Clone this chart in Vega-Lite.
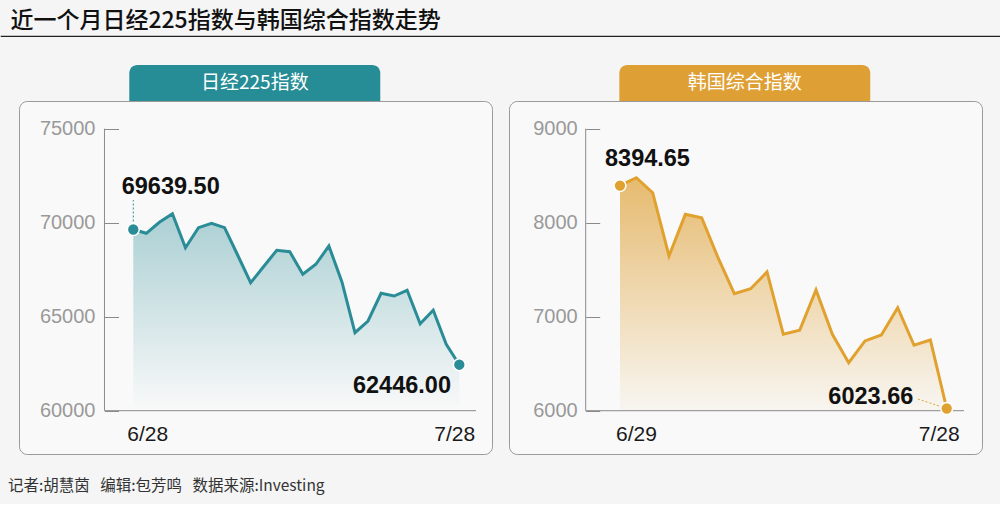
{
  "$schema": "https://vega.github.io/schema/vega-lite/v6.json",
  "background": "#f5f5f5",
  "padding": {"left": 0, "top": 9, "right": 0, "bottom": 10},
  "bounds": "flush",
  "spacing": 64,
  "title": {
    "text": "近一个月日经225指数与韩国综合指数走势",
    "anchor": "start",
    "dx": 10,
    "offset": 2.5,
    "font": "Noto Sans CJK SC",
    "fontSize": 23,
    "fontWeight": 500,
    "color": "#111111"
  },
  "datasets": {
    "nikkei": [
      {"i": 0, "v": 69639.5},
      {"i": 1, "v": 69436},
      {"i": 2, "v": 70020},
      {"i": 3, "v": 70479},
      {"i": 4, "v": 68670},
      {"i": 5, "v": 69734},
      {"i": 6, "v": 69968},
      {"i": 7, "v": 69734},
      {"i": 8, "v": 68282},
      {"i": 9, "v": 66809},
      {"i": 10, "v": 67670},
      {"i": 11, "v": 68532},
      {"i": 12, "v": 68457},
      {"i": 13, "v": 67255},
      {"i": 14, "v": 67787},
      {"i": 15, "v": 68761},
      {"i": 16, "v": 66846},
      {"i": 17, "v": 64149},
      {"i": 18, "v": 64771},
      {"i": 19, "v": 66245},
      {"i": 20, "v": 66101},
      {"i": 21, "v": 66404},
      {"i": 22, "v": 64628},
      {"i": 23, "v": 65340},
      {"i": 24, "v": 63532},
      {"i": 25, "v": 62446}
    ],
    "kospi": [
      {"i": 0, "v": 8394.65},
      {"i": 1, "v": 8479},
      {"i": 2, "v": 8319},
      {"i": 3, "v": 7646},
      {"i": 4, "v": 8089},
      {"i": 5, "v": 8053},
      {"i": 6, "v": 7628},
      {"i": 7, "v": 7245},
      {"i": 8, "v": 7298},
      {"i": 9, "v": 7476},
      {"i": 10, "v": 6813},
      {"i": 11, "v": 6855},
      {"i": 12, "v": 7284},
      {"i": 13, "v": 6813},
      {"i": 14, "v": 6511},
      {"i": 15, "v": 6742},
      {"i": 16, "v": 6805},
      {"i": 17, "v": 7096},
      {"i": 18, "v": 6696},
      {"i": 19, "v": 6752},
      {"i": 20, "v": 6023.66}
    ]
  },
  "vconcat": [
    {
      "width": 1000,
      "height": 0.01,
      "data": {"values": []},
      "mark": "point",
      "view": {"stroke": "#222222", "strokeWidth": 1.2}
    },
    {
      "bounds": "flush",
      "spacing": 17,
      "title": {
        "text": "记者:胡慧茵\u00a0\u00a0\u00a0编辑:包芳鸣\u00a0\u00a0\u00a0数据来源:Investing",
        "orient": "bottom",
        "anchor": "start",
        "dx": 7,
        "offset": 24,
        "font": "Noto Sans CJK SC",
        "fontSize": 15.5,
        "fontWeight": "normal",
        "color": "#333333"
      },
      "hconcat": [
        {
          "width": 0.01,
          "height": 353,
          "data": {"values": []},
          "mark": "point",
          "view": {"stroke": null}
        },
        {
          "width": 473,
          "height": 353,
          "view": {"fill": "#f9f9f9", "stroke": "#9a9a9a", "cornerRadius": 8},
          "data": {"name": "nikkei"},
          "layer": [
            {
              "data": {"values": [{"tab": "日经225指数"}]},
              "mark": {"type": "rect", "color": "#268c96", "cornerRadiusTopLeft": 8, "cornerRadiusTopRight": 8},
              "encoding": {
                "x": {"datum": -0.307},
                "x2": {"datum": 18.94},
                "y": {"datum": 78388},
                "y2": {"datum": 76473}
              }
            },
            {
              "data": {"values": [{"tab": "日经225指数"}]},
              "mark": {"type": "text", "color": "white", "font": "Noto Sans CJK SC", "fontSize": 19, "align": "center", "baseline": "middle"},
              "encoding": {
                "x": {"datum": 9.32},
                "y": {"datum": 77430},
                "text": {"field": "tab"}
              }
            },
            {
              "mark": {
                "type": "area",
                "fill": {
                  "gradient": "linear",
                  "x1": 0, "y1": 0, "x2": 0, "y2": 1,
                  "stops": [
                    {"offset": 0, "color": "rgba(42,140,150,0.38)"},
                    {"offset": 1, "color": "rgba(42,140,150,0.0)"}
                  ]
                }
              },
              "encoding": {
                "x": {
                  "field": "i",
                  "type": "quantitative",
                  "scale": {"domain": [-8.765, 27.508], "nice": false, "zero": false},
                  "axis": {
                    "values": [0, 25],
                    "labelExpr": "datum.value == 0 ? '6/28' : '7/28'",
                    "title": null,
                    "grid": false,
                    "domain": false,
                    "ticks": false,
                    "offset": -43.3,
                    "labelFont": "Liberation Sans",
                    "labelFontSize": 21,
                    "labelColor": "#1a1a1a",
                    "labelBaseline": "alphabetic",
                    "labelPadding": 30,
                    "labelFlush": false,
                    "labelOffset": {"condition": {"test": "datum.value == 0", "value": 14}, "value": -5}
                  }
                },
                "y": {
                  "field": "v",
                  "type": "quantitative",
                  "scale": {"domain": [57697, 76473], "nice": false, "zero": false},
                  "axis": {
                    "values": [60000, 65000, 70000, 75000],
                    "format": "d",
                    "title": null,
                    "grid": false,
                    "domain": false,
                    "ticks": true,
                    "tickSize": -14,
                    "tickColor": "#8a8a8a",
                    "offset": -85.5,
                    "labelFont": "Liberation Sans",
                    "labelFontSize": 20,
                    "labelColor": "#999999",
                    "labelPadding": 23.5
                  }
                },
                "y2": {"datum": 60000}
              }
            },
            {
              "data": {"values": [{}]},
              "mark": {"type": "rule", "color": "#8a8a8a", "strokeWidth": 1},
              "encoding": {
                "x": {"datum": -2.21},
                "x2": {"datum": 26.28},
                "y": {"datum": 60000}
              }
            },
            {
              "data": {"values": [{}]},
              "mark": {"type": "rule", "color": "#8a8a8a", "strokeWidth": 1},
              "encoding": {
                "x": {"datum": -2.21},
                "y": {"datum": 60000},
                "y2": {"datum": 75000}
              }
            },
            {
              "mark": {"type": "line", "color": "#2a8c96", "strokeWidth": 3},
              "encoding": {
                "x": {"field": "i", "type": "quantitative"},
                "y": {"field": "v", "type": "quantitative"}
              }
            },
            {
              "data": {"values": [{}]},
              "mark": {"type": "rule", "color": "#2a8c96", "strokeWidth": 1, "strokeDash": [2, 2]},
              "encoding": {
                "x": {"datum": 0},
                "y": {"datum": 69639.5},
                "y2": {"datum": 71207}
              }
            },
            {
              "transform": [{"filter": "datum.i == 0 || datum.i == 25"}],
              "mark": {"type": "circle", "size": 140, "color": "#2a8c96", "opacity": 1, "stroke": "white", "strokeWidth": 1.5},
              "encoding": {
                "x": {"field": "i", "type": "quantitative"},
                "y": {"field": "v", "type": "quantitative"}
              }
            },
            {
              "transform": [{"filter": "datum.i == 0"}],
              "mark": {"type": "text", "align": "left", "baseline": "alphabetic", "dx": -11.6, "dy": -35, "font": "Liberation Sans", "fontWeight": "bold", "fontSize": 23.5, "color": "#111111"},
              "encoding": {
                "x": {"field": "i", "type": "quantitative"},
                "y": {"field": "v", "type": "quantitative"},
                "text": {"field": "v", "type": "quantitative", "format": ".2f"}
              }
            },
            {
              "transform": [{"filter": "datum.i == 25"}],
              "mark": {"type": "text", "align": "right", "baseline": "alphabetic", "dx": -8.3, "dy": 28.3, "font": "Liberation Sans", "fontWeight": "bold", "fontSize": 23.5, "color": "#111111"},
              "encoding": {
                "x": {"field": "i", "type": "quantitative"},
                "y": {"field": "v", "type": "quantitative"},
                "text": {"field": "v", "type": "quantitative", "format": ".2f"}
              }
            }
          ]
        },
        {
          "width": 473,
          "height": 353,
          "view": {"fill": "#f9f9f9", "stroke": "#9a9a9a", "cornerRadius": 8},
          "data": {"name": "kospi"},
          "layer": [
            {
              "data": {"values": [{"tab": "韩国综合指数"}]},
              "mark": {"type": "rect", "color": "#dea034", "cornerRadiusTopLeft": 8, "cornerRadiusTopRight": 8},
              "encoding": {
                "x": {"datum": -0.04},
                "x2": {"datum": 15.32},
                "y": {"datum": 9677.7},
                "y2": {"datum": 9294.7}
              }
            },
            {
              "data": {"values": [{"tab": "韩国综合指数"}]},
              "mark": {"type": "text", "color": "white", "font": "Noto Sans CJK SC", "fontSize": 19, "align": "center", "baseline": "middle"},
              "encoding": {
                "x": {"datum": 7.64},
                "y": {"datum": 9486.2},
                "text": {"field": "tab"}
              }
            },
            {
              "mark": {
                "type": "area",
                "fill": {
                  "gradient": "linear",
                  "x1": 0, "y1": 0, "x2": 0, "y2": 1,
                  "stops": [
                    {"offset": 0, "color": "rgba(222,160,52,0.7)"},
                    {"offset": 1, "color": "rgba(222,160,52,0.04)"}
                  ]
                }
              },
              "encoding": {
                "x": {
                  "field": "i",
                  "type": "quantitative",
                  "scale": {"domain": [-6.795, 22.161], "nice": false, "zero": false},
                  "axis": {
                    "values": [0, 20],
                    "labelExpr": "datum.value == 0 ? '6/29' : '7/28'",
                    "title": null,
                    "grid": false,
                    "domain": false,
                    "ticks": false,
                    "offset": -43.3,
                    "labelFont": "Liberation Sans",
                    "labelFontSize": 21,
                    "labelColor": "#1a1a1a",
                    "labelBaseline": "alphabetic",
                    "labelPadding": 30,
                    "labelFlush": false,
                    "labelOffset": {"condition": {"test": "datum.value == 0", "value": 16}, "value": -8}
                  }
                },
                "y": {
                  "field": "v",
                  "type": "quantitative",
                  "scale": {"domain": [5539.4, 9294.7], "nice": false, "zero": false},
                  "axis": {
                    "values": [6000, 7000, 8000, 9000],
                    "format": "d",
                    "title": null,
                    "grid": false,
                    "domain": false,
                    "ticks": true,
                    "tickSize": -14,
                    "tickColor": "#8a8a8a",
                    "offset": -76.7,
                    "labelFont": "Liberation Sans",
                    "labelFontSize": 20,
                    "labelColor": "#999999",
                    "labelPadding": 22.5
                  }
                },
                "y2": {"datum": 6000}
              }
            },
            {
              "data": {"values": [{}]},
              "mark": {"type": "rule", "color": "#8a8a8a", "strokeWidth": 1},
              "encoding": {
                "x": {"datum": -2.1},
                "x2": {"datum": 21.06},
                "y": {"datum": 6000}
              }
            },
            {
              "data": {"values": [{}]},
              "mark": {"type": "rule", "color": "#8a8a8a", "strokeWidth": 1},
              "encoding": {
                "x": {"datum": -2.1},
                "y": {"datum": 6000},
                "y2": {"datum": 9000}
              }
            },
            {
              "mark": {"type": "line", "color": "#e0a12f", "strokeWidth": 3},
              "encoding": {
                "x": {"field": "i", "type": "quantitative"},
                "y": {"field": "v", "type": "quantitative"}
              }
            },
            {
              "data": {"values": [{}]},
              "mark": {"type": "rule", "color": "#e0a12f", "strokeWidth": 1, "strokeDash": [2, 2]},
              "encoding": {
                "x": {"datum": 18.24},
                "x2": {"datum": 20},
                "y": {"datum": 6124},
                "y2": {"datum": 6023.66}
              }
            },
            {
              "transform": [{"filter": "datum.i == 0 || datum.i == 20"}],
              "mark": {"type": "circle", "size": 140, "color": "#e0a12f", "opacity": 1, "stroke": "white", "strokeWidth": 1.5},
              "encoding": {
                "x": {"field": "i", "type": "quantitative"},
                "y": {"field": "v", "type": "quantitative"}
              }
            },
            {
              "transform": [{"filter": "datum.i == 0"}],
              "mark": {"type": "text", "align": "left", "baseline": "alphabetic", "dx": -15, "dy": -20, "font": "Liberation Sans", "fontWeight": "bold", "fontSize": 23.5, "color": "#111111"},
              "encoding": {
                "x": {"field": "i", "type": "quantitative"},
                "y": {"field": "v", "type": "quantitative"},
                "text": {"field": "v", "type": "quantitative", "format": ".2f"}
              }
            },
            {
              "transform": [{"filter": "datum.i == 20"}],
              "mark": {"type": "text", "align": "right", "baseline": "alphabetic", "dx": -33.4, "dy": -4.7, "font": "Liberation Sans", "fontWeight": "bold", "fontSize": 23.5, "color": "#111111"},
              "encoding": {
                "x": {"field": "i", "type": "quantitative"},
                "y": {"field": "v", "type": "quantitative"},
                "text": {"field": "v", "type": "quantitative", "format": ".2f"}
              }
            }
          ]
        }
      ]
    }
  ]
}
